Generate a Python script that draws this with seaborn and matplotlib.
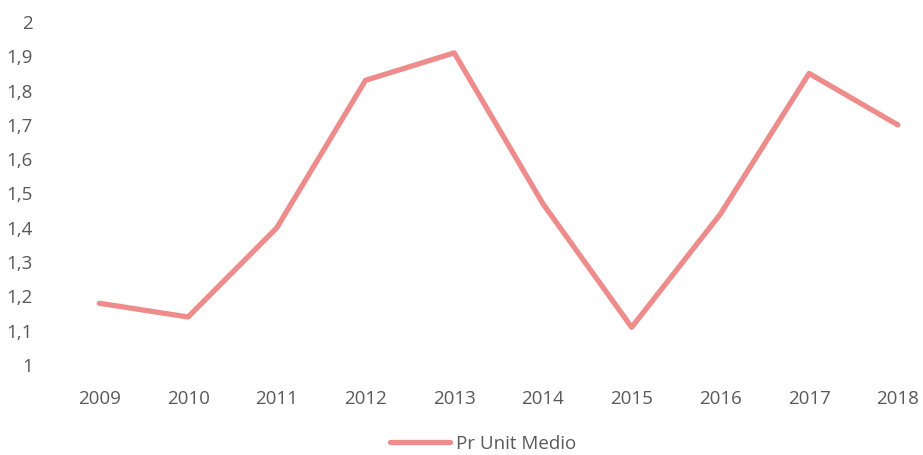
import matplotlib
matplotlib.use("Agg")
import matplotlib.pyplot as plt
from matplotlib.ticker import FuncFormatter, MultipleLocator
import pandas as pd
import seaborn as sns

years = ["2009", "2010", "2011", "2012", "2013", "2014", "2015", "2016", "2017", "2018"]
pr_unit_medio = [1.18, 1.14, 1.40, 1.83, 1.91, 1.47, 1.11, 1.44, 1.85, 1.70]
series_name = "Pr Unit Medio"

df = pd.DataFrame({"Anno": years, "Valore": pr_unit_medio, "Serie": series_name})

sns.set_theme(style="white")
plt.rcParams["font.family"] = ["Open Sans", "DejaVu Sans"]

fig = plt.figure(figsize=(9.23, 4.55), dpi=100)
ax = fig.add_axes([55 / 923, 90 / 455, 865 / 923, 343 / 455])

line_color = "#EE8B8B"
sns.lineplot(data=df, x="Anno", y="Valore", hue="Serie", palette=[line_color],
             linewidth=3.8, sort=False, ax=ax, legend=True)

ax.set_xlim(-0.5, 9.25)
ax.set_ylim(1.0, 2.0)
ax.yaxis.set_major_locator(MultipleLocator(0.1))

def comma_fmt(v, _):
    s = f"{v:.1f}".rstrip("0").rstrip(".")
    return s.replace(".", ",")

ax.yaxis.set_major_formatter(FuncFormatter(comma_fmt))
ax.set_xlabel("")
ax.set_ylabel("")
for sp in ax.spines.values():
    sp.set_visible(False)
ax.tick_params(axis="both", length=0, labelsize=13.5, colors="#595959")
ax.tick_params(axis="x", pad=18)
ax.tick_params(axis="y", pad=16)
ax.grid(False)

leg = ax.legend(loc="center", bbox_to_anchor=(483 / 923, 11 / 455),
                bbox_transform=fig.transFigure, frameon=False, fontsize=13.5,
                handlelength=3.2, handletextpad=0.3, borderpad=0.1)
for t in leg.get_texts():
    t.set_color("#595959")

fig.savefig("out.png", dpi=100, facecolor="white")
